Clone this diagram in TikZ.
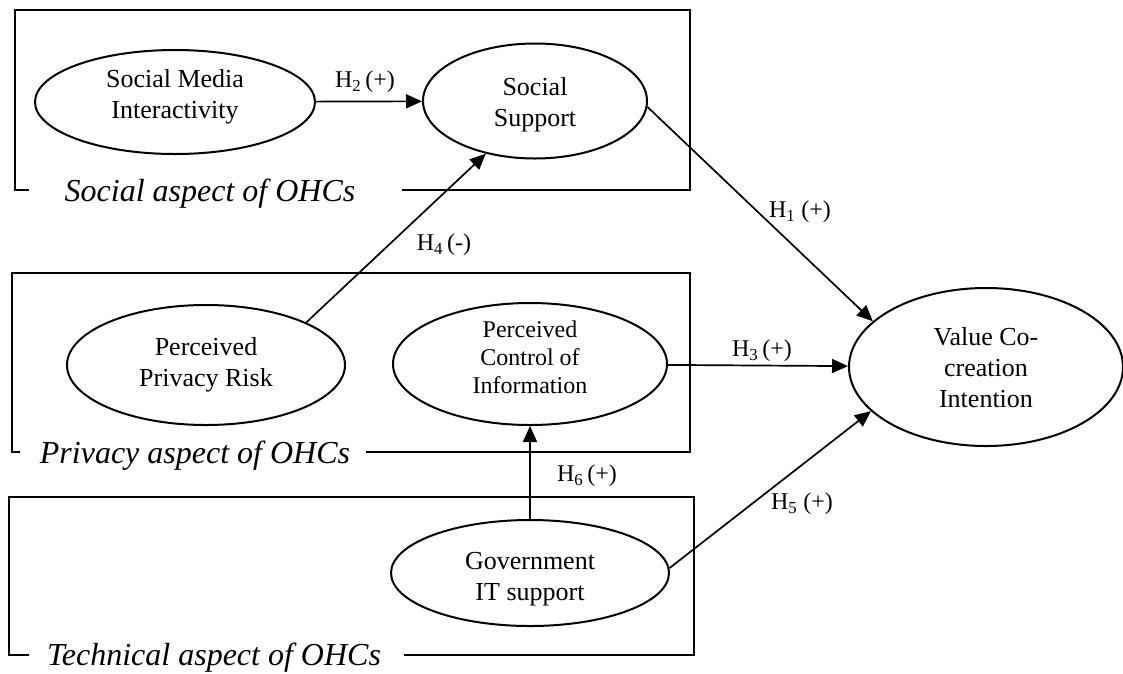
\documentclass[tikz,border=0pt]{standalone}
\usepackage{fontspec}
\setmainfont{Liberation Serif}
\usetikzlibrary{shapes.geometric,arrows.meta}
\newcommand{\shiftedlines}[2]{\raisebox{#1}[\height][\depth]{\begin{tabular}{@{}c@{}}#2\end{tabular}}}
\begin{document}
\begin{tikzpicture}[x=1pt,y=-1pt,
  construct/.style={ellipse,draw,line width=2pt,inner sep=0pt,align=center,font=\fontsize{26}{31}\selectfont},
  aspectbox/.style={line width=2.8pt},
  aspectlabel/.style={anchor=base,font=\fontsize{32}{38}\selectfont\itshape,inner sep=0pt},
  hyp/.style={line width=1.7pt,-{Triangle[length=16pt,width=14pt]}},
  hlabel/.style={font=\fontsize{24}{28}\selectfont,inner sep=0pt}]
\useasboundingbox (0,0) rectangle (1123,673);

% aspect boxes
\draw[aspectbox] (29,190) -- (15,190) -- (15,10) -- (690,10) -- (690,190) -- (402,190);
\node[aspectlabel] (lsoc) at (210,201) {Social aspect of OHCs};
\draw[aspectbox] (20,452) -- (12,452) -- (12,273) -- (690,273) -- (690,452) -- (366,452);
\node[aspectlabel] (lpriv) at (195,463) {Privacy aspect of OHCs};
\draw[aspectbox] (29,655) -- (9,655) -- (9,497) -- (694,497) -- (694,655) -- (404,655);
\node[aspectlabel] (ltech) at (214,665) {Technical aspect of OHCs};

% constructs
\node[construct,minimum width=280pt,minimum height=104pt] (smi) at (175,102) {\shiftedlines{5pt}{Social Media\\Interactivity}};
\node[construct,minimum width=224pt,minimum height=115pt] (ss) at (535,101) {\shiftedlines{-4pt}{Social\\Support}};
\node[construct,minimum width=278pt,minimum height=120pt] (ppr) at (206,365) {\shiftedlines{0pt}{Perceived\\Privacy Risk}};
\node[construct,minimum width=274pt,minimum height=122pt,font=\fontsize{24}{28}\selectfont] (pci) at (530,364) {\shiftedlines{4pt}{Perceived\\Control of\\Information}};
\node[construct,minimum width=278pt,minimum height=106pt] (git) at (530,573) {\shiftedlines{-6pt}{Government\\IT support}};
\node[construct,minimum width=274pt,minimum height=158pt] (vci) at (986,367) {\shiftedlines{-3pt}{Value Co-\\creation\\Intention}};

% hypotheses
\draw[hyp] (smi) -- (ss);
\draw[hyp] (ss.-3) -- (vci.158);
\draw[hyp] (pci) -- (vci);
\draw[hyp] (ppr.23) -- (ss.227);
\draw[hyp] (git.2) -- (vci.201);
\draw[hyp] (git) -- (pci);

\node[hlabel] (h2) at (365,82) {H\textsubscript{2}\,(+)};
\node[hlabel] (h1) at (800,212) {H\textsubscript{1} (+)};
\node[hlabel] (h3) at (762,351) {H\textsubscript{3}\,(+)};
\node[hlabel] (h4) at (444,245) {H\textsubscript{4}\,(-)};
\node[hlabel] (h5) at (802,504) {H\textsubscript{5} (+)};
\node[hlabel] (h6) at (587,476) {H\textsubscript{6}\,(+)};
\end{tikzpicture}
\end{document}
